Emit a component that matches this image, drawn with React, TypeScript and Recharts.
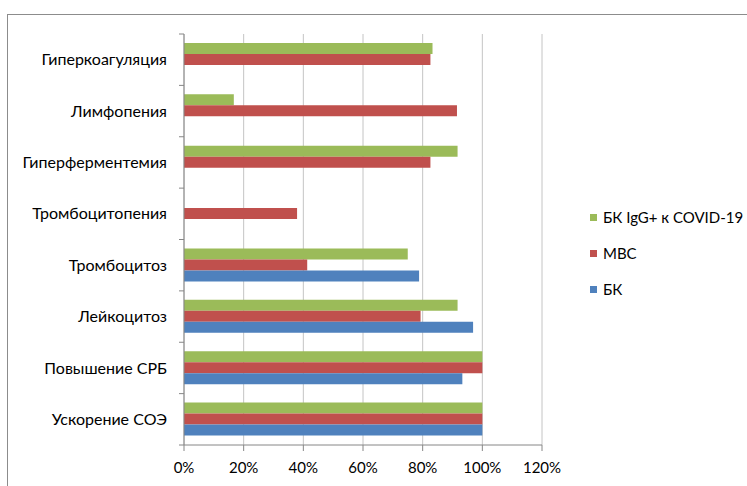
import { Bar, BarChart, CartesianGrid, Legend, XAxis, YAxis } from "recharts";

const categories = [
  "Гиперкоагуляция",
  "Лимфопения",
  "Гиперферментемия",
  "Тромбоцитопения",
  "Тромбоцитоз",
  "Лейкоцитоз",
  "Повышение СРБ",
  "Ускорение СОЭ",
];

// values in percent, null = no bar
const covidValues = [83.3, 16.7, 91.7, null, 75, 91.7, 100, 100];
const mvsValues = [82.6, 91.5, 82.6, 37.9, 41.3, 79.3, 100, 100];
const bkValues = [null, null, null, null, 78.8, 96.9, 93.3, 100];

const xTicks = [0, 20, 40, 60, 80, 100, 120];

const series = [
  { key: "covid", name: "БК IgG+ к COVID-19", color: "#9BBB59" },
  { key: "mvs", name: "МВС", color: "#C0504D" },
  { key: "bk", name: "БК", color: "#4F81BD" },
];

const data = categories.map((name, i) => ({
  name,
  covid: covidValues[i],
  mvs: mvsValues[i],
  bk: bkValues[i],
}));

const axisColor = "#868686";
const font = "Lato, 'Liberation Sans', sans-serif";

// Excel-style category ticks: marks sit on the band edges, label in the middle
function CategoryTick(props: any) {
  const { x, y, payload, index, visibleTicksCount } = props;
  const half = payload.offset || 0;
  const axisX = x + 17;
  return (
    <g>
      <line x1={axisX - 5} x2={axisX} y1={y - half} y2={y - half} stroke={axisColor} />
      {index === visibleTicksCount - 1 && (
        <line x1={axisX - 5} x2={axisX} y1={y + half} y2={y + half} stroke={axisColor} />
      )}
      <text x={x} y={y} dy="0.35em" textAnchor="end" fill="#000" fontSize={16} fontFamily={font}>
        {payload.value}
      </text>
    </g>
  );
}

function LegendBox() {
  return (
    <div style={{ fontFamily: font, fontSize: 15, color: "#000" }}>
      {series.map((s) => (
        <div key={s.key} style={{ display: "flex", alignItems: "center", height: 36 }}>
          <span style={{ width: 7, height: 7, background: s.color, marginRight: 6, display: "inline-block" }} />
          <span>{s.name}</span>
        </div>
      ))}
    </div>
  );
}

export default function App() {
  return (
    <div style={{ position: "absolute", left: 0, top: 0, width: 747, height: 486, overflow: "hidden", background: "#fff", fontFamily: font }}>
      <div style={{ position: "absolute", left: 7, top: 14, width: 780, height: 520, border: "1px solid #8c8c8c" }} />
      <div style={{ position: "absolute", left: 0, top: 0 }}>
        <BarChart
          width={747}
          height={486}
          data={data}
          layout="vertical"
          margin={{ top: 34, right: 205, bottom: 0, left: 0 }}
          barCategoryGap="17.5%"
          barGap={0}
        >
          <CartesianGrid horizontal={false} stroke="#c4c4c4" />
          <XAxis
            type="number"
            domain={[0, 120]}
            ticks={xTicks}
            interval={0}
            tickFormatter={(v) => `${v}%`}
            height={41}
            stroke={axisColor}
            tickSize={6}
            tickMargin={11}
            tick={{ fill: "#000", fontSize: 15, fontFamily: font }}
          />
          <YAxis
            type="category"
            dataKey="name"
            width={184}
            interval={0}
            stroke={axisColor}
            tickLine={false}
            tickSize={5}
            tickMargin={12}
            tick={<CategoryTick />}
          />
          <Legend
            layout="vertical"
            align="center"
            verticalAlign="middle"
            content={() => <LegendBox />}
            wrapperStyle={{ left: 590, top: 199, width: 160 }}
          />
          {series.map((s) => (
            <Bar key={s.key} dataKey={s.key} name={s.name} fill={s.color} isAnimationActive={false} />
          ))}
        </BarChart>
      </div>
    </div>
  );
}
